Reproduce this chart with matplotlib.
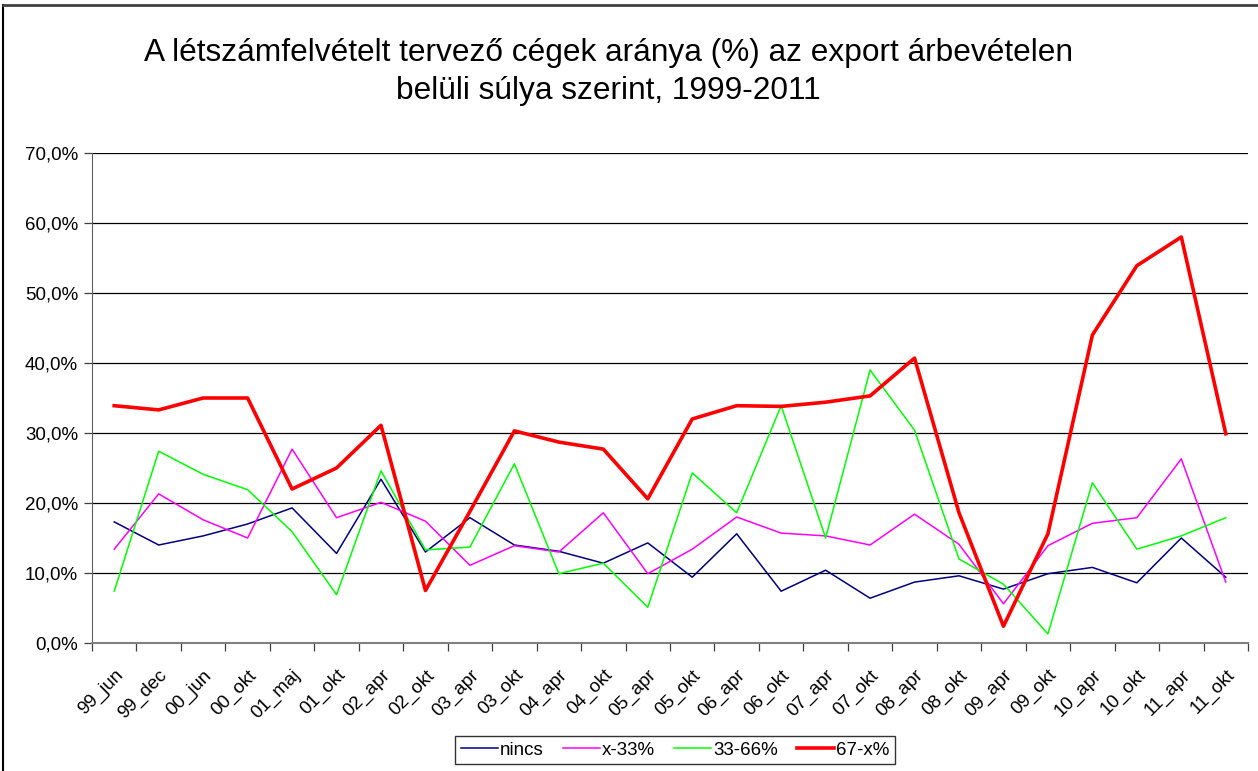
import numpy as np
import matplotlib.pyplot as plt
from matplotlib.lines import Line2D
from matplotlib.ticker import FuncFormatter

plt.rcParams['font.family'] = ['Liberation Sans', 'DejaVu Sans']

# felvételi időpontok
idopontok = ['99_jun', '99_dec', '00_jun', '00_okt', '01_maj', '01_okt', '02_apr',
             '02_okt', '03_apr', '03_okt', '04_apr', '04_okt', '05_apr', '05_okt',
             '06_apr', '06_okt', '07_apr', '07_okt', '08_apr', '08_okt', '09_apr',
             '09_okt', '10_apr', '10_okt', '11_apr', '11_okt']

# export súlya szerinti csoportok (%)
nincs = [17.3, 14.0, 15.3, 17.0, 19.3, 12.8, 23.4, 13.0, 17.9, 14.0, 13.1, 11.4, 14.3,
         9.4, 15.6, 7.4, 10.4, 6.4, 8.7, 9.6, 7.7, 9.9, 10.8, 8.6, 15.0, 9.4]
x_33 = [13.4, 21.3, 17.6, 15.0, 27.7, 17.9, 20.1, 17.4, 11.1, 13.9, 13.0, 18.6, 9.9,
        13.4, 18.0, 15.7, 15.3, 14.0, 18.4, 14.1, 5.6, 13.9, 17.1, 17.9, 26.3, 8.7]
k33_66 = [7.4, 27.4, 24.1, 21.9, 15.9, 6.9, 24.6, 13.3, 13.7, 25.6, 9.9, 11.4, 5.1,
          24.3, 18.6, 33.9, 15.0, 39.0, 30.4, 12.0, 8.4, 1.3, 22.9, 13.4, 15.3, 17.9]
k67_x = [33.9, 33.3, 35.0, 35.0, 22.0, 25.0, 31.1, 7.5, 18.8, 30.3, 28.7, 27.7, 20.6,
         32.0, 33.9, 33.8, 34.4, 35.3, 40.7, 18.6, 2.4, 15.6, 44.0, 53.9, 58.0, 29.9]

W, H = 1258, 771
fig = plt.figure(figsize=(W / 100, H / 100), dpi=100)
ax = fig.add_axes([92 / W, 1 - 643 / H, (1248 - 92) / W, (643 - 153) / H])

x = np.arange(len(idopontok))
ax.plot(x, nincs, color='#000080', lw=1.1, label='nincs')
ax.plot(x, x_33, color='#FF00FF', lw=1.1, label='x-33%')
ax.plot(x, k33_66, color='#00FF00', lw=1.1, label='33-66%')
ax.plot(x, k67_x, color='#FF0000', lw=2.6, label='67-x%')

ax.set_xlim(-0.5, len(idopontok) - 0.5)
ax.set_ylim(0, 70)
ax.set_yticks(np.arange(0, 71, 10))
ax.yaxis.set_major_formatter(FuncFormatter(lambda v, p: f'{v:.1f}%'.replace('.', ',')))
ax.grid(axis='y', color='black', lw=0.9)
ax.set_axisbelow(True)

ax.set_xticks(x)
ax.set_xticklabels(idopontok, rotation=45, ha='right', va='top', rotation_mode='anchor')
ax.set_xticks(np.arange(-0.5, len(idopontok), 1), minor=True)
ax.tick_params(axis='x', which='major', length=0, pad=17, labelsize=13.5)
ax.tick_params(axis='x', which='minor', length=6, width=0.9, color='#404040')
ax.tick_params(axis='y', length=6, width=0.9, color='#404040', labelsize=13.5, pad=4)

for s in ['top', 'right']:
    ax.spines[s].set_visible(False)
ax.spines['left'].set_color('#606060')
ax.spines['bottom'].set_color('#808080')
ax.spines['bottom'].set_linewidth(1.5)

# cím két sorban
fig.text(608 / W, 1 - 61 / H,
         'A létszámfelvételt tervező cégek aránya (%) az export árbevételen',
         ha='center', va='baseline', fontsize=22.8)
fig.text(608 / W, 1 - 99 / H, 'belüli súlya szerint, 1999-2011',
         ha='center', va='baseline', fontsize=22.8)

leg = ax.legend(loc='center', bbox_to_anchor=(675 / W, 1 - 750 / H),
                bbox_transform=fig.transFigure, ncol=4, frameon=True, fancybox=False,
                fontsize=13.5, handlelength=2.0, handletextpad=0.1, columnspacing=1.0,
                borderpad=0.3, borderaxespad=0)
leg.get_frame().set_edgecolor('black')
leg.get_frame().set_linewidth(1.0)

# keret a diagram körül
fig.add_artist(Line2D([3 / W, 3 / W], [0, 1 - 5 / H], color='black', lw=1.5,
                      transform=fig.transFigure))
fig.add_artist(Line2D([3 / W, 1], [1 - 5 / H, 1 - 5 / H], color='#404040', lw=2,
                      transform=fig.transFigure))

fig.savefig('out.png', dpi=100)
